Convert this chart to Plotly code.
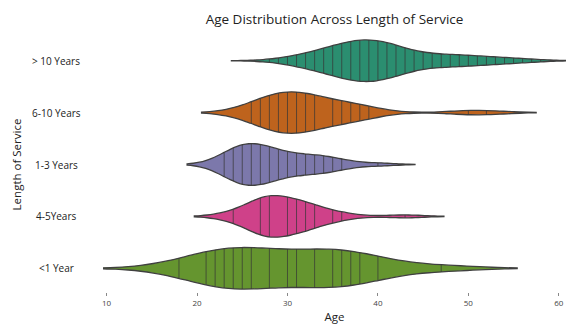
import numpy as np
import plotly.graph_objects as go

# ---- data ----
categories = ["<1 Year", "4-5Years", "1-3 Years", "6-10 Years", "> 10 Years"]

ages_lt1 = [18, 21, 22, 23, 24, 25, 26, 28, 30, 31, 33, 35, 36, 37, 38, 40, 47]
counts_lt1 = [1, 1, 1, 1, 2, 1, 1, 1, 1, 1, 1, 2, 1, 1, 1, 1, 1]

ages_4_5 = [24, 27, 28, 30, 31, 32, 33, 35, 36, 43]
counts_4_5 = [2, 5, 6, 3, 3, 2, 2, 1, 1, 1]

ages_1_3 = [23, 24, 25, 26, 27, 28, 29, 30, 31, 32, 33, 34, 35, 36, 40]
counts_1_3 = [4, 6, 8, 8, 7, 5, 4, 3, 3, 3, 3, 3, 3, 2, 2]

ages_6_10 = [26, 27, 28, 29, 30, 31, 32, 33, 35, 36, 37, 38, 39, 50, 52]
counts_6_10 = [3, 4, 5, 6, 7, 7, 6, 5, 4, 3, 3, 3, 2, 2, 2]

ages_gt10 = list(range(28, 59))
counts_gt10 = [1, 1, 2, 3, 5, 6, 7, 9, 11, 13, 14, 14, 14, 12, 10, 7, 5, 4, 4, 4,
               4, 4, 3, 3, 3, 2, 2, 2, 1, 1, 1]

group_ages = [ages_lt1, ages_4_5, ages_1_3, ages_6_10, ages_gt10]
group_counts = [counts_lt1, counts_4_5, counts_1_3, counts_6_10, counts_gt10]

# ---- styling ----
bandwidths = [4.2, 2.15, 2.05, 2.75, 2.1]
colors = ["#65952f", "#cf4189", "#7c78ab", "#be631d", "#2b8e70"]
outline = "#404040"
stick_color = "rgba(55,55,55,0.8)"
vwidth = 0.8
font_family = "Open Sans, DejaVu Sans, sans-serif"


def kde(x, data, bw):
    z = (x[:, None] - data[None, :]) / bw
    return np.exp(-0.5 * z * z).sum(axis=1) / (len(data) * bw * np.sqrt(2 * np.pi))


fig = go.Figure()
for i, (ages, counts) in enumerate(zip(group_ages, group_counts)):
    data = np.repeat(np.array(ages, dtype=float), counts)
    bw = bandwidths[i]
    fig.add_trace(go.Violin(
        x=data, y0=i, orientation="h", name=categories[i],
        bandwidth=bw, spanmode="soft", scalemode="width", width=vwidth,
        side="both", points=False, box_visible=False, meanline_visible=False,
        fillcolor=colors[i], line=dict(color=outline, width=1.3),
        opacity=1, showlegend=False, hoverinfo="skip",
    ))
    # inner "stick" lines, one per observed age, spanning the density
    grid = np.linspace(data.min() - 2 * bw, data.max() + 2 * bw, 2000)
    dmax = kde(grid, data, bw).max()
    uniq = np.unique(data)
    half = kde(uniq, data, bw) / dmax * vwidth / 2
    xs, ys = [], []
    for u, h in zip(uniq, half):
        xs += [u, u, None]
        ys += [i - h, i + h, None]
    fig.add_trace(go.Scatter(
        x=xs, y=ys, mode="lines", line=dict(color=stick_color, width=0.9),
        showlegend=False, hoverinfo="skip",
    ))

annotations = []
for i, c in enumerate(categories):
    annotations.append(dict(
        text=c, xref="paper", yref="y", x=-0.1015, y=i, xanchor="center",
        yanchor="middle", showarrow=False,
        font=dict(family=font_family, size=10, color="#222222"),
    ))
annotations.append(dict(
    text="Length of Service", xref="paper", yref="paper", x=-0.186, y=0.5,
    xanchor="center", yanchor="middle", textangle=-90, showarrow=False,
    font=dict(family=font_family, size=11.5, color="#222222"),
))

fig.update_layout(
    width=566, height=325,
    margin=dict(l=103, r=0, t=37, b=33),
    paper_bgcolor="white", plot_bgcolor="white",
    violinmode="overlay",
    title=dict(text="Age Distribution Across Length of Service", x=0.5,
               xanchor="center", y=0.94, yanchor="middle", xref="paper",
               font=dict(family=font_family, size=13.5, color="#222222")),
    xaxis=dict(range=[9.6, 60.8], tickvals=[10, 20, 30, 40, 50, 60],
               showgrid=False, zeroline=False, showline=False,
               ticks="outside", ticklen=3, tickcolor="#888888", tickwidth=1,
               tickfont=dict(family=font_family, size=8, color="#444444"),
               title=dict(text="Age", standoff=6,
                          font=dict(family=font_family, size=11.5, color="#222222"))),
    yaxis=dict(range=[-0.457, 4.457], showticklabels=False, showgrid=False,
               zeroline=False, showline=False, ticks=""),
    annotations=annotations,
)

fig.write_html("out.html", config={"displayModeBar": False},
               post_script="document.body.style.margin='0';")
